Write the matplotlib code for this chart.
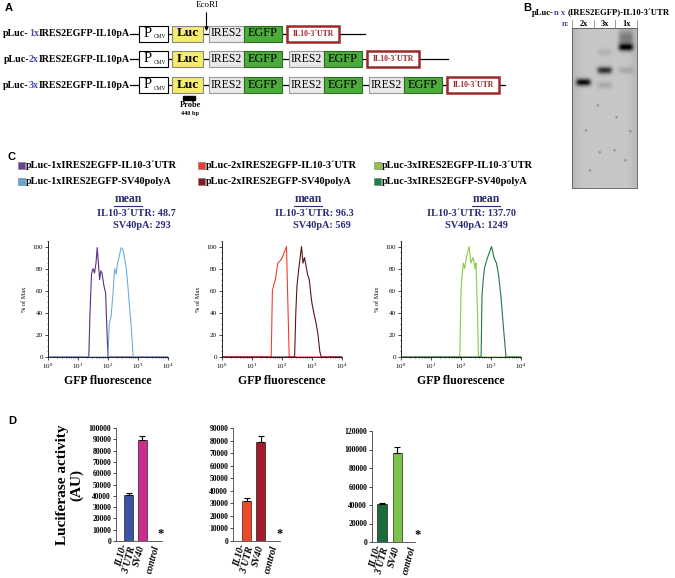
import numpy as np
import matplotlib
matplotlib.use("Agg")
import matplotlib.pyplot as plt
from matplotlib.patches import Rectangle
from matplotlib.ticker import MultipleLocator, LogLocator, NullFormatter

SERIF = "Liberation Serif"
SANS = "Liberation Sans"
plt.rcParams["font.family"] = [SERIF, "DejaVu Serif"]
plt.rcParams["mathtext.fontset"] = "stix"

# ---- data ----
copies = ["1x", "2x", "3x"]

legend_labels = ["pLuc-1xIRES2EGFP-IL10-3\u00b4UTR", "pLuc-1xIRES2EGFP-SV40polyA",
                 "pLuc-2xIRES2EGFP-IL10-3\u00b4UTR", "pLuc-2xIRES2EGFP-SV40polyA",
                 "pLuc-3xIRES2EGFP-IL10-3\u00b4UTR", "pLuc-3xIRES2EGFP-SV40polyA"]
mean_utr = ["48.7", "96.3", "137.70"]
mean_sv40 = ["293", "569", "1249"]

# histogram traces: log10(GFP) positions and % of max
h1_utr_x = [0, 1.36, 1.40, 1.45, 1.50, 1.55, 1.60, 1.64, 1.68, 1.72, 1.76, 1.80, 1.86, 1.92, 1.97, 2.00, 4]
h1_utr_y = [0, 0, 40, 75, 80, 76, 85, 99, 85, 70, 78, 76, 65, 58, 20, 0, 0]
h1_sv_x = [0, 2.00, 2.04, 2.10, 2.16, 2.22, 2.27, 2.32, 2.38, 2.44, 2.50, 2.55, 2.61, 2.67, 2.72, 2.78, 2.84, 4]
h1_sv_y = [0, 0, 30, 36, 55, 80, 75, 85, 92, 99, 97, 90, 80, 62, 45, 25, 0, 0]
h2_utr_x = [0, 1.64, 1.68, 1.74, 1.78, 1.86, 1.94, 2.01, 2.08, 2.15, 2.19, 2.24, 4]
h2_utr_y = [0, 0, 60, 67, 70, 85, 87, 90, 95, 100, 55, 0, 0]
h2_sv_x = [0, 2.42, 2.46, 2.50, 2.56, 2.65, 2.70, 2.75, 2.85, 2.91, 2.99, 3.06, 3.14, 3.20, 3.26, 3.31, 4]
h2_sv_y = [0, 0, 40, 65, 80, 100, 85, 90, 75, 70, 50, 40, 30, 20, 5, 0, 0]
h3_utr_x = [0, 1.96, 2.00, 2.04, 2.08, 2.12, 2.18, 2.27, 2.33, 2.40, 2.47, 2.50, 2.55, 2.58, 4]
h3_utr_y = [0, 0, 60, 75, 85, 80, 90, 100, 85, 90, 80, 85, 40, 0, 0]
h3_sv_x = [0, 2.67, 2.70, 2.74, 2.78, 2.86, 2.95, 3.02, 3.10, 3.18, 3.25, 3.33, 3.42, 3.50, 4]
h3_sv_y = [0, 0, 55, 70, 80, 88, 95, 100, 90, 85, 75, 55, 25, 0, 0]

# luciferase activity (AU), mean and error
bar_labels = ["IL10-\n3\u00b4UTR", "SV40", "control"]
luc1 = [40800, 89500, 0]
luc1_err = [1800, 3000, 0]
luc2 = [32000, 78500, 0]
luc2_err = [2500, 5000, 0]
luc3 = [41000, 96500, 0]
luc3_err = [1500, 6500, 0]

# Southern blot bands: lane, position (px), strength
lanes = ["2x", "3x", "1x"]
band_lane = [0, 1, 2, 1, 2, 1, 2]
band_pos = [82, 70, 47, 85, 70, 52, 38]
band_amp = [0.75, 0.6, 0.7, 0.12, 0.12, 0.08, 0.3]
spots = [(586, 130), (598, 105), (617, 117), (631, 131), (626, 160), (615, 150), (600, 152), (590, 170)]

W, H = 675, 578
fig = plt.figure(figsize=(6.75, 5.78), dpi=100)
base = fig.add_axes([0, 0, 1, 1])
base.set_xlim(0, W)
base.set_ylim(H, 0)
base.axis("off")
rend = fig.canvas.get_renderer()
NAVY = "#2b2b78"
BLUE_TXT = "#4a4ab0"


def px_axes(x0, y0, x1, y1):
    return fig.add_axes([x0 / W, 1 - y1 / H, (x1 - x0) / W, (y1 - y0) / H])


def rich(x, y, parts, ha="left", **kw):
    inv = base.transData.inverted()
    if ha == "right":
        parts = parts[::-1]
    for s, c in parts:
        t = base.text(x, y, s, color=c, ha=ha, va="center", **kw)
        bb = t.get_window_extent(rend)
        x = inv.transform((bb.x0 if ha == "right" else bb.x1, bb.y0))[0]


def box(x0, x1, yc, face, edge, lw=0.8, h=16):
    base.add_patch(Rectangle((x0, yc - h / 2), x1 - x0, h, facecolor=face, edgecolor=edge, lw=lw, zorder=3))


# ---- panel A ----
base.text(5, 8, "A", fontfamily=SANS, fontweight="bold", fontsize=8, va="center")
row_y = [33.5, 59, 85]
line_end = [365, 448, 505]
for i, n in enumerate(copies):
    y = row_y[i]
    rich(130, y, [("pLuc-", "black"), (n, BLUE_TXT), ("IRES2EGFP-IL10pA", "black")],
         ha="right", fontsize=7.2, fontweight="bold")
    base.plot([130, line_end[i]], [y, y], color="black", lw=0.9, zorder=1)
    box(139, 168, y, "white", "black")
    base.text(148, y, "P", fontsize=10.5, ha="center", va="center", zorder=4)
    base.text(160, y + 3, "CMV", fontsize=4, ha="center", va="center", zorder=4)
    box(172, 203, y, "#f4ec6a", "#888888")
    base.text(187.5, y, "Luc", fontsize=9.5, fontweight="bold", ha="center", va="center", zorder=4)
    x = 209
    for k in range(i + 1):
        box(x, x + 35, y, "#e9e9e9", "#9a9a9a")
        base.text(x + 17.5, y, "IRES2", fontsize=8.5, ha="center", va="center", zorder=4)
        box(x + 35, x + 73, y, "#4cab3c", "#2c6a22")
        base.text(x + 54, y, "EGFP", fontsize=8.8, ha="center", va="center", zorder=4)
        x += 80
    ux = x - 2
    box(ux, ux + 52, y, "white", "#9b2a2a", lw=1.8)
    base.text(ux + 26, y, "IL10-3\u00b4UTR", fontsize=5.6, fontweight="bold", color="#9b2a2a",
              ha="center", va="center", zorder=4)

base.text(207, 5, "EcoRI", fontsize=6.5, ha="center", va="center")
base.annotate("", xy=(206.5, 34), xytext=(206.5, 10),
              arrowprops=dict(arrowstyle="-|>", color="black", lw=0.8, mutation_scale=6))
base.add_patch(Rectangle((183, 96), 12, 4, color="black"))
base.text(190, 105, "Probe", fontsize=6, fontweight="bold", ha="center", va="center")
base.text(190, 113, "440 bp", fontsize=4.5, fontweight="bold", ha="center", va="center")

# ---- panel B ----
base.text(523, 8, "B", fontfamily=SANS, fontweight="bold", fontsize=8, va="center")
rich(532, 13, [("pLuc-", "black"), ("n x ", BLUE_TXT), ("(IRES2EGFP)-IL10-3\u00b4UTR", "black")],
     fontsize=6.2, fontweight="bold")
base.text(566, 24, "n:", color=BLUE_TXT, fontsize=6, fontweight="bold", ha="center", va="center")
lane_x = [583.5, 605, 626.5]
for sx in [572, 594.5, 615.5, 637]:
    base.text(sx, 24, "|", fontsize=6, ha="center", va="center")
for lx, lab in zip(lane_x, lanes):
    base.text(lx, 24, lab, fontsize=6, fontweight="bold", ha="center", va="center")

gx = np.arange(572, 638, 0.5)
gy = np.arange(28, 188, 0.5)
GX, GY = np.meshgrid(gx, gy)
dark = 0.22 + 0.06 * np.exp(-((GX - 572) / 7) ** 2) + 0.05 * np.exp(-((GX - 637) / 6) ** 2)
for ln, p, a in zip(band_lane, band_pos, band_amp):
    sy = 9 if a > 0.2 and p < 40 else 3.5
    dark += a * np.exp(-((GX - lane_x[ln]) / 7.5) ** 4 - ((GY - p) / sy) ** 2)
for sx, sy in spots:
    dark += 0.35 * np.exp(-((GX - sx) ** 2 + (GY - sy) ** 2) / 1.0)
gax = px_axes(572, 28, 637, 188)
gax.imshow(1 - np.clip(dark, 0, 1), cmap="gray", vmin=0, vmax=1, aspect="auto",
           extent=(572, 637, 188, 28), interpolation="bilinear")
gax.set_xticks([])
gax.set_yticks([])
for s in gax.spines.values():
    s.set_color("#555555")
    s.set_linewidth(0.6)

# ---- panel C ----
base.text(8, 157, "C", fontfamily=SANS, fontweight="bold", fontsize=8, va="center")
leg_colors = ["#6a3d9a", "#5fa8dc", "#ee3b2b", "#8b1a1e", "#8cc63f", "#1b8040"]
leg_x = [18, 198, 374]
for j in range(6):
    x = leg_x[j // 2]
    y = 165 if j % 2 == 0 else 181
    base.add_patch(Rectangle((x, y - 3.5), 7, 7, facecolor=leg_colors[j], edgecolor="#777777", lw=0.4))
    base.text(x + 8, y, legend_labels[j], fontsize=7.4, fontweight="bold", va="center")

hists = [(h1_utr_x, h1_utr_y, h1_sv_x, h1_sv_y), (h2_utr_x, h2_utr_y, h2_sv_x, h2_sv_y),
         (h3_utr_x, h3_utr_y, h3_sv_x, h3_sv_y)]
hist_x0 = [48, 222, 401]
trace_colors = [("#5b2d8a", "#6aaee0"), ("#f0402e", "#5a1616"), ("#8dcb47", "#1f7a40")]
mean_x = [128, 308, 486]
utr_x0 = [97, 275, 427]
sv_x0 = [113, 293, 445]
for i in range(3):
    t = base.text(mean_x[i], 199, "mean", fontsize=8.5, fontweight="bold", color=NAVY, ha="center", va="center")
    bb = t.get_window_extent(rend)
    inv = base.transData.inverted()
    (ux0, uy), (ux1, _) = inv.transform([(bb.x0, bb.y0), (bb.x1, bb.y0)])
    base.plot([ux0, ux1], [uy + 1, uy + 1], color=NAVY, lw=0.8)
    base.text(utr_x0[i], 213, "IL10-3\u00b4UTR: " + mean_utr[i], fontsize=7.4, fontweight="bold", color=NAVY, va="center")
    base.text(sv_x0[i], 225, "SV40pA: " + mean_sv40[i], fontsize=7.4, fontweight="bold", color=NAVY, va="center")

    ux, uy, sx, sy = hists[i]
    ax = px_axes(hist_x0[i], 241, hist_x0[i] + 120, 357)
    ax.plot(10 ** np.array(ux), uy, color=trace_colors[i][0], lw=0.8)
    ax.plot(10 ** np.array(sx), sy, color=trace_colors[i][1], lw=0.8)
    ax.set_xscale("log")
    ax.set_xlim(1, 1e4)
    ax.set_ylim(0, 105)
    ax.set_xticks([1, 10, 100, 1000, 10000])
    ax.xaxis.set_minor_locator(LogLocator(base=10, subs=np.arange(2, 10)))
    ax.xaxis.set_minor_formatter(NullFormatter())
    ax.set_yticks([0, 20, 40, 60, 80, 100])
    ax.yaxis.set_minor_locator(MultipleLocator(5))
    ax.tick_params(labelsize=5, length=2, width=0.5, pad=1.5)
    ax.tick_params(which="minor", length=1, width=0.4)
    for s in ["top", "right"]:
        ax.spines[s].set_visible(False)
    for s in ["left", "bottom"]:
        ax.spines[s].set_linewidth(0.6)
    ax.set_ylabel("% of Max", fontsize=4.5, labelpad=4)
    ax.set_xlabel("GFP fluorescence", fontsize=8.5, fontweight="bold", labelpad=3)

# ---- panel D ----
base.text(8, 421, "D", fontfamily=SANS, fontweight="bold", fontsize=8, va="center")
base.text(70, 485, "Luciferase activity\n(AU)", fontsize=11, fontweight="bold", rotation=90,
          ha="center", va="center", linespacing=1.1)
bar_sets = [(luc1, luc1_err, ["#3b54a4", "#cc2b8f"], 100000, 10000, (116, 428, 162, 541), (-0.9, 2.4)),
            (luc2, luc2_err, ["#ea4a2a", "#a11d2b"], 90000, 10000, (233, 428, 280, 541), (-0.95, 2.35)),
            (luc3, luc3_err, ["#1d6b3c", "#7dc24b"], 120000, 20000, (372, 431, 415, 542), (-0.65, 2.15))]
for vals, errs, cols, ymax, step, rect, xl in bar_sets:
    ax = px_axes(*rect)
    xs = np.arange(len(vals))
    ax.bar(xs[:2], vals[:2], width=0.62, color=cols, edgecolor="black", lw=0.4)
    ax.errorbar(xs[:2], vals[:2], yerr=[[0, 0], errs[:2]], fmt="none", ecolor="black",
                elinewidth=0.8, capsize=2, capthick=0.8)
    ax.text(xs[2] + 0.3, ymax * 0.01, "*", fontsize=9, fontweight="bold", ha="center", va="bottom")
    ax.set_xlim(*xl)
    ax.set_ylim(0, ymax)
    ax.set_yticks(np.arange(0, ymax + 1, step))
    ax.set_xticks(xs)
    ax.set_xticklabels(bar_labels, rotation=75, ha="right", va="center", rotation_mode="anchor",
                       fontsize=7, fontweight="bold", style="italic", linespacing=0.85)
    for lab in ax.get_yticklabels():
        lab.set_fontweight("bold")
    ax.tick_params(axis="y", labelsize=5.5, length=2, width=0.5, pad=1.5)
    ax.tick_params(axis="x", length=0, pad=3)
    for s in ["top", "right"]:
        ax.spines[s].set_visible(False)
    for s in ["left", "bottom"]:
        ax.spines[s].set_linewidth(0.6)
        ax.spines[s].set_color("#444444")

fig.savefig("out.png", dpi=100)
